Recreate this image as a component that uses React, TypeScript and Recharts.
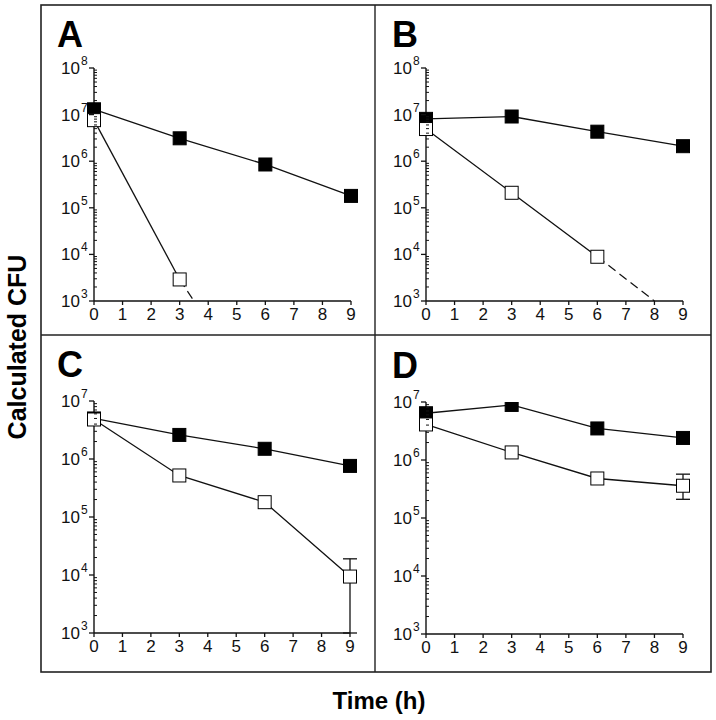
import React from 'react';
import { LineChart, Line, XAxis, YAxis, ErrorBar } from 'recharts';

// sampling times (h)
const times = [0, 3, 6, 9];
const hourTicks = [0, 1, 2, 3, 4, 5, 6, 7, 8, 9];
const minorSteps = [2, 3, 4, 5, 6, 7, 8, 9];

// Panel A
const aFilled = [1.3e7, 3.1e6, 8.5e5, 1.8e5];
const aOpen = [7.6e6, 2.9e3];
const aDashTimes = [3, 3.5];
const aDashValues = [2.9e3, 1e3];

// Panel B
const bFilled = [8.1e6, 9.1e6, 4.3e6, 2.1e6];
const bOpen = [4.9e6, 2.1e5, 8.9e3];
const bDashTimes = [6, 8];
const bDashValues = [8.9e3, 1e3];

// Panel C  (error = [below, above])
const cFilled = [5.0e6, 2.6e6, 1.5e6, 7.6e5];
const cOpen = [4.8e6, 5.2e5, 1.8e5, 9.4e3];
const cOpenErr = [null, null, null, [8.4e3, 9.6e3]];

// Panel D
const dFilled = [6.4e6, 8.9e6, 3.5e6, 2.4e6];
const dOpen = [4.1e6, 1.35e6, 4.8e5, 3.6e5];
const dOpenErr = [null, null, null, [1.5e5, 2.1e5]];

const FONT = '"Liberation Sans", Arial, Helvetica, sans-serif';

const toPoints = (ts: number[], vs: number[], errs?: any[]) =>
  vs.map((v, i) => ({ t: ts[i], v, err: errs ? errs[i] : undefined }));

const logTicks = (maxExp: number) => {
  const out: number[] = [];
  for (let e = 3; e < maxExp; e++) {
    out.push(Math.pow(10, e));
    minorSteps.forEach(m => out.push(m * Math.pow(10, e)));
  }
  out.push(Math.pow(10, maxExp));
  return out;
};

const YTick = (props: any) => {
  const { x, y, payload } = props;
  const exp = Math.log10(payload.value);
  const major = Math.abs(exp - Math.round(exp)) < 1e-6;
  if (!major) {
    return <line x1={x} x2={x + 3} y1={y} y2={y} stroke="#111" strokeWidth={1} />;
  }
  return (
    <g>
      <line x1={x - 5} x2={x} y1={y} y2={y} stroke="#111" strokeWidth={1.3} />
      <text x={x - 14} y={y + 6} textAnchor="end" fontSize={17} fill="#111" fontFamily={FONT}>10</text>
      <text x={x - 13} y={y - 3} textAnchor="start" fontSize={12} fill="#111" fontFamily={FONT}>{Math.round(exp)}</text>
    </g>
  );
};

const XTick = (props: any) => {
  const { x, y, payload } = props;
  return (
    <g>
      <line x1={x} x2={x} y1={y} y2={y + 4} stroke="#111" strokeWidth={1.3} />
      <text x={x} y={y + 19} textAnchor="middle" fontSize={17} fill="#111" fontFamily={FONT}>{payload.value}</text>
    </g>
  );
};

const squareDot = (fill: string) => (p: any) => (
  <rect key={`sq-${p.index}`} x={p.cx - 6.5} y={p.cy - 6.5} width={13} height={13} fill={fill} stroke="#000" strokeWidth={1} />
);

interface PanelProps {
  left: number;
  top: number;
  w: number;
  h: number;
  maxExp: number;
  filled: number[];
  open: number[];
  openErr?: any[];
  dashT?: number[];
  dashV?: number[];
}

const Panel: React.FC<PanelProps> = ({ left, top, w, h, maxExp, filled, open, openErr, dashT, dashV }) => {
  const filledData = toPoints(times, filled);
  const openData = toPoints(times, open, openErr);
  const dashData = dashT && dashV ? toPoints(dashT, dashV) : null;
  return (
    <div style={{ position: 'absolute', left: left - 60, top: top - 20 }}>
      <LineChart width={w + 80} height={h + 50} margin={{ top: 20, right: 20, bottom: 0, left: 0 }}>
        <XAxis
          dataKey="t"
          type="number"
          domain={[0, 9]}
          ticks={hourTicks}
          interval={0}
          tickSize={0}
          tickMargin={0}
          tickLine={false}
          tick={<XTick />}
          height={30}
          axisLine={{ stroke: '#111', strokeWidth: 1.4 }}
        />
        <YAxis
          dataKey="v"
          scale="log"
          type="number"
          domain={[1e3, Math.pow(10, maxExp)]}
          ticks={logTicks(maxExp)}
          interval={0}
          tickSize={0}
          tickMargin={0}
          tickLine={false}
          tick={<YTick />}
          width={60}
          allowDataOverflow
          axisLine={{ stroke: '#111', strokeWidth: 1.4 }}
        />
        {dashData && (
          <Line data={dashData} dataKey="v" stroke="#111" strokeWidth={1.2} strokeDasharray="9 5" dot={false} isAnimationActive={false} />
        )}
        <Line data={filledData} dataKey="v" stroke="#111" strokeWidth={1.3} dot={squareDot('#000')} isAnimationActive={false} />
        <Line data={openData} dataKey="v" stroke="#111" strokeWidth={1.3} dot={squareDot('#fff')} isAnimationActive={false}>
          {openErr && <ErrorBar dataKey="err" direction="y" width={7} stroke="#111" strokeWidth={1.3} />}
        </Line>
      </LineChart>
    </div>
  );
};

export default function App() {
  return (
    <div style={{ position: 'absolute', left: 0, top: 0, width: 716, height: 720, background: '#fff', fontFamily: FONT }}>
      <svg width={716} height={720} style={{ position: 'absolute', left: 0, top: 0 }}>
        <rect x={41} y={5} width={670} height={667} fill="none" stroke="#222" strokeWidth={1.6} />
        <line x1={375} x2={375} y1={5} y2={672} stroke="#222" strokeWidth={1.4} />
        <line x1={41} x2={711} y1={335} y2={335} stroke="#222" strokeWidth={1.4} />
        <text x={57} y={47} fontSize={36} fontWeight="bold" fill="#000" fontFamily={FONT}>A</text>
        <text x={392} y={47} fontSize={36} fontWeight="bold" fill="#000" fontFamily={FONT}>B</text>
        <text x={57} y={377} fontSize={36} fontWeight="bold" fill="#000" fontFamily={FONT}>C</text>
        <text x={392} y={378} fontSize={36} fontWeight="bold" fill="#000" fontFamily={FONT}>D</text>
        <text
          x={26}
          y={347}
          transform="rotate(-90 26 347)"
          textAnchor="middle"
          fontSize={25}
          fontWeight="bold"
          fill="#000"
          fontFamily={FONT}
        >
          Calculated CFU
        </text>
        <text x={379} y={709} textAnchor="middle" fontSize={24} fontWeight="bold" fill="#000" fontFamily={FONT}>
          Time (h)
        </text>
      </svg>
      <Panel left={94} top={68} w={257} h={233} maxExp={8} filled={aFilled} open={aOpen} dashT={aDashTimes} dashV={aDashValues} />
      <Panel left={426} top={68} w={257} h={233} maxExp={8} filled={bFilled} open={bOpen} dashT={bDashTimes} dashV={bDashValues} />
      <Panel left={94} top={401} w={256} h={232} maxExp={7} filled={cFilled} open={cOpen} openErr={cOpenErr} />
      <Panel left={426} top={402} w={257} h={232} maxExp={7} filled={dFilled} open={dOpen} openErr={dOpenErr} />
    </div>
  );
}
